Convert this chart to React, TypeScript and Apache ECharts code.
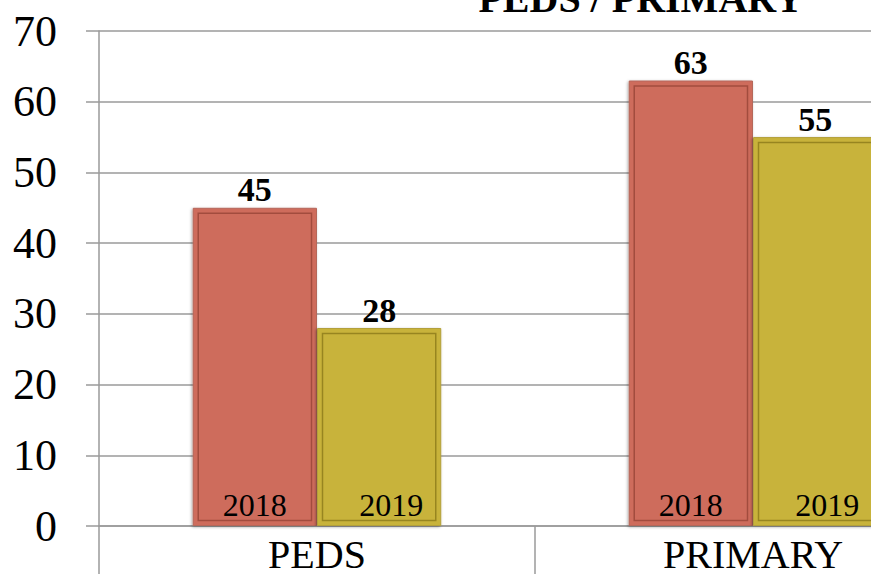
import React, { useEffect, useRef } from "react";
import * as echarts from "echarts";

const categories = ["PEDS", "PRIMARY"];
const seriesNames = ["2018", "2019"];
const values2018 = [45, 63];
const values2019 = [28, 55];
const yMin = 0;
const yMax = 70;
const yInterval = 10;
const chartTitle = "PEDS / PRIMARY";

const SERIF = "'Liberation Serif', 'Times New Roman', serif";
const FILLS = ["#CE6C5C", "#C8B33B"];
const OUTER = ["#B5675A", "#B3A03A"];
const INNER = ["#A24C3E", "#978520"];
const GAP = 0.43;

export default function App() {
  const ref = useRef<HTMLDivElement>(null);

  useEffect(() => {
    if (!ref.current) return;
    const chart = echarts.init(ref.current, undefined, { renderer: "svg" });

    const allValues = [values2018, values2019];

    const makeSeries = (idx: number) => ({
      name: seriesNames[idx],
      type: "bar",
      data: allValues[idx],
      barGap: "0%",
      barCategoryGap: GAP * 100 + "%",
      itemStyle: {
        color: FILLS[idx],
        borderColor: OUTER[idx],
        borderWidth: 1,
        shadowColor: "rgba(0,0,0,0.35)",
        shadowBlur: 3,
        shadowOffsetX: -1,
        shadowOffsetY: 1,
      },
      label: {
        show: true,
        position: "top",
        distance: 1,
        fontFamily: SERIF,
        fontWeight: "bold",
        fontSize: 34,
        color: "#000",
      },
      z: 3,
    });

    // overlay data: [categoryIndex, value, seriesIndex]
    const overlayData: number[][] = [];
    categories.forEach((_, ci) => {
      allValues.forEach((vals, si) => {
        overlayData.push([ci, vals[ci], si]);
      });
    });

    const overlaySeries = {
      type: "custom",
      name: "overlay",
      data: overlayData,
      encode: { x: 0, y: 1 },
      silent: true,
      z: 5,
      renderItem: (params: any, api: any) => {
        const ci = api.value(0);
        const v = api.value(1);
        const si = api.value(2);
        const base = api.coord([ci, 0]);
        const top = api.coord([ci, v]);
        const band = api.size([1, 0])[0];
        const bw = (band * (1 - GAP)) / 2;
        const x0 = base[0] - bw + si * bw;
        const inset = 5.5;
        const textX = x0 + bw / 2 + (si === 1 ? 12 : 0);
        return {
          type: "group",
          children: [
            {
              type: "rect",
              shape: {
                x: x0 + inset,
                y: top[1] + inset,
                width: bw - inset * 2,
                height: base[1] - top[1] - inset * 2,
              },
              style: { fill: "none", stroke: INNER[si], lineWidth: 1.5 },
            },
            {
              type: "text",
              x: textX,
              y: base[1] - 5,
              style: {
                text: seriesNames[si],
                fontFamily: SERIF,
                fontSize: 32,
                fill: "#000",
                align: "center",
                verticalAlign: "bottom",
              },
            },
          ],
        };
      },
    };

    const option: any = {
      animation: false,
      backgroundColor: "#ffffff",
      grid: {
        left: 99,
        top: 31,
        right: -100,
        bottom: 48,
        containLabel: false,
        outerBoundsMode: "none",
      },
      graphic: [
        {
          type: "text",
          x: 641,
          y: -2,
          style: {
            text: chartTitle,
            fontFamily: SERIF,
            fontWeight: "bold",
            fontSize: 40,
            fill: "#000",
            align: "center",
            verticalAlign: "middle",
          },
          z: 10,
        },
      ],
      xAxis: {
        type: "category",
        data: categories,
        axisLine: { show: true, lineStyle: { color: "#9a9a9a", width: 1.5 } },
        axisTick: {
          show: true,
          alignWithLabel: false,
          length: 50,
          lineStyle: { color: "#9a9a9a", width: 1.5 },
        },
        axisLabel: {
          fontFamily: SERIF,
          fontSize: 40,
          lineHeight: 30,
          color: "#000",
          margin: 13,
        },
        splitLine: { show: false },
      },
      yAxis: {
        type: "value",
        min: yMin,
        max: yMax,
        interval: yInterval,
        axisLine: { show: true, lineStyle: { color: "#9a9a9a", width: 1.5 } },
        axisTick: { show: true, inside: false, length: 13, lineStyle: { color: "#9a9a9a", width: 1.5 } },
        axisLabel: {
          fontFamily: SERIF,
          fontSize: 44,
          color: "#000",
          margin: 42,
          padding: [0, 0, 8, 0],
        },
        splitLine: { show: true, lineStyle: { color: "#9a9a9a", width: 1.5 } },
      },
      series: [makeSeries(0), makeSeries(1), overlaySeries],
    };

    chart.setOption(option);

    return () => {
      chart.dispose();
    };
  }, []);

  return (
    <div
      ref={ref}
      style={{ position: "absolute", left: 0, top: 0, width: 871, height: 574 }}
    />
  );
}
